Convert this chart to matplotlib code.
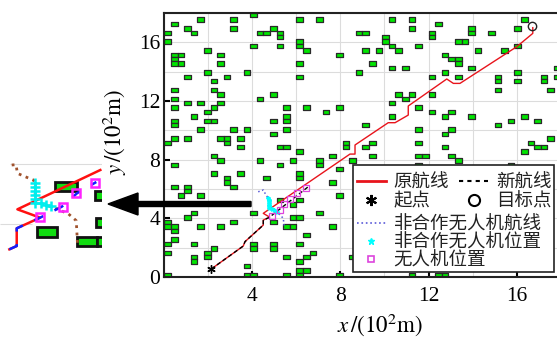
import matplotlib
matplotlib.use('Agg')
import matplotlib.pyplot as plt
from matplotlib.patches import Rectangle, FancyArrow
from matplotlib.collections import PatchCollection
from matplotlib.lines import Line2D
from matplotlib.ticker import MultipleLocator
from matplotlib.font_manager import FontProperties

plt.rcParams['font.family'] = ['Liberation Serif', 'DejaVu Serif']
plt.rcParams['mathtext.fontset'] = 'stix'

CELL = 0.3  # grid cell, 10^2 m

# obstacle cells (column, row) on the 60 x 60 grid
obs_cells = [
    (5, 58), (10, 58), (13, 59), (20, 58), (23, 58), (1, 57), (3, 56), (10, 56),
    (4, 55), (0, 55), (14, 55), (15, 55), (16, 56), (17, 55), (17, 54), (0, 53),
    (6, 51), (13, 52), (17, 52), (20, 53), (20, 52), (21, 51),
    (1, 50), (2, 50), (1, 49), (1, 48), (2, 48), (8, 50), (8, 48), (26, 50), (20, 48),
    (6, 46), (12, 46), (3, 45), (9, 45), (20, 45), (29, 46), (7, 44),
    (1, 42), (7, 42), (8, 41), (1, 40), (14, 40), (16, 41),
    (3, 39), (5, 39), (8, 39), (1, 38), (7, 38), (6, 37), (18, 38), (21, 38), (24, 37), (26, 38),
    (4, 36), (1, 35), (1, 34), (6, 35), (7, 35), (18, 36), (18, 35), (16, 35),
    (5, 33), (10, 33), (12, 33), (18, 33), (16, 32), (1, 31), (3, 31), (0, 30),
    (8, 31), (9, 31), (9, 30), (11, 31), (11, 29), (17, 29), (18, 29), (27, 30), (27, 29),
    (20, 28), (7, 27), (8, 26), (1, 25), (14, 26), (17, 25), (19, 26), (23, 26), (23, 25),
    (25, 27), (28, 26), (26, 24), (7, 23), (11, 23), (20, 23), (20, 22), (15, 22),
    (9, 22), (9, 21), (10, 20), (25, 21), (1, 20), (3, 20), (3, 19), (2, 18), (5, 18),
    (20, 17), (19, 16), (26, 18), (17, 17), (4, 14), (3, 13), (13, 14), (10, 12), (16, 12),
    (19, 13), (20, 13), (23, 14), (0, 12), (0, 11), (1, 11), (1, 10), (5, 11), (8, 11),
    (18, 11), (19, 11), (25, 11), (21, 9), (1, 8), (0, 7), (4, 7), (13, 7), (13, 6),
    (16, 7), (16, 6), (20, 7), (7, 6), (6, 5), (6, 4), (0, 5), (4, 4), (4, 3),
    (22, 5), (21, 4), (20, 3), (18, 4), (28, 4), (12, 2), (20, 1), (21, 1),
    (0, 0), (12, 0), (13, 0), (18, 0), (20, 0), (26, 0), (37, 0), (41, 0), (42, 0),
    (34, 58), (37, 58), (37, 56), (54, 58), (41, 57), (29, 55), (30, 55),
    (33, 54), (33, 53), (34, 52), (35, 51), (40, 55), (40, 54), (46, 56), (46, 55),
    (49, 55), (53, 56), (44, 53), (45, 53), (30, 51), (32, 51), (38, 52), (47, 51),
    (51, 51), (53, 52), (31, 48), (42, 50), (43, 49), (44, 49), (44, 48),
    (34, 47), (36, 47), (46, 47), (40, 45), (42, 46), (44, 45), (50, 45), (50, 44),
    (50, 42), (53, 46), (53, 44), (57, 45), (57, 44), (59, 47), (59, 45), (58, 42),
    (40, 41), (35, 41), (36, 40), (37, 41), (34, 39), (38, 38), (40, 37), (42, 36),
    (43, 37), (46, 36), (34, 36), (30, 34), (50, 34), (52, 35), (54, 36), (56, 35),
    (38, 33), (43, 33), (42, 32), (58, 31), (30, 29), (31, 30), (38, 30), (42, 29),
    (55, 30), (56, 29), (57, 29), (54, 28), (31, 27), (38, 27), (39, 27), (43, 27),
    (44, 26), (38, 25), (52, 25),
]

# original route (red)
orig_x = [2.13, 3.58, 3.66, 4.49, 4.49, 4.78, 4.49, 8.43, 8.66, 8.66, 10.17, 10.48,
          11.08, 11.08, 12.83, 13.13, 13.43, 16.01, 16.74, 16.74]
orig_y = [0.55, 2.11, 2.41, 3.54, 3.88, 4.08, 4.34, 8.38, 8.38, 9.00, 10.52, 10.52,
          11.04, 11.66, 13.50, 13.20, 13.20, 15.70, 16.61, 17.00]

# new route (black dashed)
new_x = [2.13, 3.58, 3.66, 4.49, 4.49, 4.75, 6.54]
new_y = [0.55, 2.11, 2.41, 3.54, 3.88, 4.05, 6.16]

start = (2.13, 0.55)
goal = (16.72, 17.10)

# non-cooperative UAV track and positions
nc_x = [4.26, 4.49, 4.57, 4.72, 4.75, 5.10, 5.25, 5.40, 5.45]
nc_y = [5.81, 5.93, 5.71, 5.36, 4.68, 4.45, 4.23, 4.00, 3.32]
ncp_x = [4.72, 4.73, 4.73, 4.74, 4.74, 4.75, 4.75, 4.87, 4.98, 5.10]
ncp_y = [5.36, 5.26, 5.15, 5.04, 4.93, 4.82, 4.70, 4.62, 4.54, 4.45]

# own UAV positions
uav_x = [4.87, 5.25, 5.45, 5.70, 6.04, 6.43]
uav_y = [4.16, 4.57, 4.96, 5.32, 5.71, 6.09]

# inset (zoomed picture of the conflict), in its own pixel-like units
in_red_x = [28, 50, 50, 120, 52, 300]
in_red_y = [268, 258, 205, 173, 148, 30]
in_blue_x = [28, 50, 50, 120, 185, 230, 288]
in_blue_y = [268, 258, 205, 173, 140, 100, 66]
in_brown_x = [35, 48, 52, 75, 100, 105, 105, 160, 205, 228, 232]
in_brown_y = [15, 14, 40, 50, 60, 70, 125, 142, 162, 182, 255]
in_cyan_x = [105, 105, 105, 105, 105, 105, 122, 138, 152]
in_cyan_y = [68, 80, 92, 104, 116, 128, 130, 134, 138]
in_sq_x = [120, 188, 228, 284]
in_sq_y = [172, 140, 100, 68]
in_obs = [(165, 65, 65, 27), (285, 92, 25, 28), (110, 200, 60, 30),
          (230, 230, 60, 27), (290, 230, 20, 27), (288, 175, 22, 25)]

fig = plt.figure(figsize=(5.57, 3.41), dpi=100)
ax = fig.add_axes([0.2953, 0.1877, 0.711, 0.7742])

rects = [Rectangle((c * CELL, r * CELL), CELL, CELL) for c, r in obs_cells]
ax.add_collection(PatchCollection(rects, facecolor='#00e600', edgecolor='#2a2a2a',
                                  linewidth=0.9, zorder=2))

ax.plot(orig_x, orig_y, color='#e8141c', lw=1.0, zorder=3)
ax.plot(new_x, new_y, color='k', ls='--', lw=1.0, dashes=(3, 2), zorder=4)
ax.plot(nc_x, nc_y, color='#5a5ad8', ls=':', lw=1.1, zorder=4)
ax.plot(ncp_x, ncp_y, ls='', marker='*', color='#00ffff', ms=3, zorder=5)
ax.plot(uav_x, uav_y, ls='', marker='s', mfc='none', mec='#dd44dd', ms=4, mew=0.9, zorder=5)
ax.plot(*start, marker=(6, 2, 0), color='k', ms=6, mew=1.0, zorder=6)
ax.plot(*goal, marker='o', mfc='none', mec='#222222', ms=6, mew=1.0, zorder=6)

ax.set_xlim(0, 18)
ax.set_ylim(0, 18)
ax.set_xticks([4, 8, 12, 16])
ax.set_yticks([0, 4, 8, 12, 16])
ax.xaxis.set_minor_locator(MultipleLocator(2))
ax.yaxis.set_minor_locator(MultipleLocator(2))
ax.grid(True, which='both', color='#dcdcdc', lw=0.8, zorder=0)
ax.set_axisbelow(True)
ax.tick_params(which='major', direction='in', length=4, width=1.5, labelsize=15.5)
ax.tick_params(axis='x', pad=7)
ax.tick_params(axis='y', pad=3)
ax.tick_params(which='minor', length=0)
for s in ax.spines.values():
    s.set_linewidth(1.5)
    s.set_color('#222222')

ax.set_xlabel(r'$x\,/(10^2\mathrm{m})$', fontsize=16.5)
ax.xaxis.set_label_coords(0.545, -0.13)
ax.set_ylabel(r'$y\,/(10^2\mathrm{m})$', fontsize=16.5)
ax.yaxis.set_label_coords(-0.09, 0.55)

cjk = FontProperties(family='Noto Sans CJK SC', size=13.3)
h_orig = Line2D([], [], color='#e8141c', lw=2)
h_new = Line2D([], [], color='k', ls='--', lw=1.5, dashes=(2, 2))
h_start = Line2D([], [], ls='', marker=(6, 2, 0), color='k', ms=8, mew=1.5)
h_goal = Line2D([], [], ls='', marker='o', mfc='none', mec='k', ms=8, mew=1.5)
h_nc = Line2D([], [], color='#5a5ad8', ls=':', lw=1.2)
h_ncp = Line2D([], [], ls='', marker='*', color='#00ffff', ms=5)
h_uav = Line2D([], [], ls='', marker='s', mfc='none', mec='#dd44dd', ms=5, mew=1.2)

box = Rectangle((0.476, 0.019), 0.5076, 0.405, transform=ax.transAxes, fc='white',
                ec='#222222', lw=1.2, zorder=6, clip_on=False)
ax.add_patch(box)

leg1 = ax.legend([h_orig, h_start, h_new, h_goal], ['原航线', '起点', '新航线', '目标点'],
                 ncol=2, loc='upper left', bbox_to_anchor=(0.486, 0.392), frameon=False,
                 prop=cjk, borderpad=0, borderaxespad=0, handlelength=1.55,
                 handletextpad=0.43, columnspacing=0.55, labelspacing=0.04)
leg1.set_zorder(7)
ax.add_artist(leg1)
leg2 = ax.legend([h_nc, h_ncp, h_uav], ['非合作无人机航线', '非合作无人机位置', '无人机位置'],
                 loc='upper left', bbox_to_anchor=(0.486, 0.234), frameon=False,
                 prop=cjk, borderpad=0, borderaxespad=0, handlelength=1.55,
                 handletextpad=0.43, labelspacing=0.0)
leg2.set_zorder(7)
for lg in (leg1, leg2):
    for t in lg.get_texts():
        t.set_color('#222222')

# inset picture on the left
axi = fig.add_axes([0.0, 84 / 341, 102 / 557, 97 / 341])
axi.set_xlim(0, 305)
axi.set_ylim(291, 0)
axi.axis('off')
axi.hlines(12, 30, 305, color='#dcdcdc', lw=0.8)
axi.hlines(193, 0, 95, color='#dcdcdc', lw=0.8)
for x0, y0, w, h in in_obs:
    axi.add_patch(Rectangle((x0, y0), w, h, fc='#11dd11', ec='#111111', lw=2.0, zorder=2))
axi.plot(in_brown_x, in_brown_y, color='#a0522d', ls=':', lw=2.0, zorder=3)
axi.plot(in_red_x, in_red_y, color='#ff1010', lw=1.8, zorder=3)
axi.plot(in_blue_x, in_blue_y, color='#1020ff', lw=1.8, dashes=(4, 5), zorder=4)
axi.plot(in_cyan_x, in_cyan_y, ls='', marker='+', color='#00eeee', ms=7, mew=1.8, zorder=5)
axi.plot(in_sq_x, in_sq_y, ls='', marker='s', mfc='none', mec='#ff22ff', ms=6, mew=1.8, zorder=6)

# big arrow pointing from the conflict area to the inset
fig.add_artist(FancyArrow(251 / 557, 137 / 341, -(251 - 108) / 557, 0, width=5 / 341,
                          head_width=22 / 341, head_length=30 / 557,
                          length_includes_head=True, color='k', transform=fig.transFigure))

plt.savefig('out.png', dpi=100)
